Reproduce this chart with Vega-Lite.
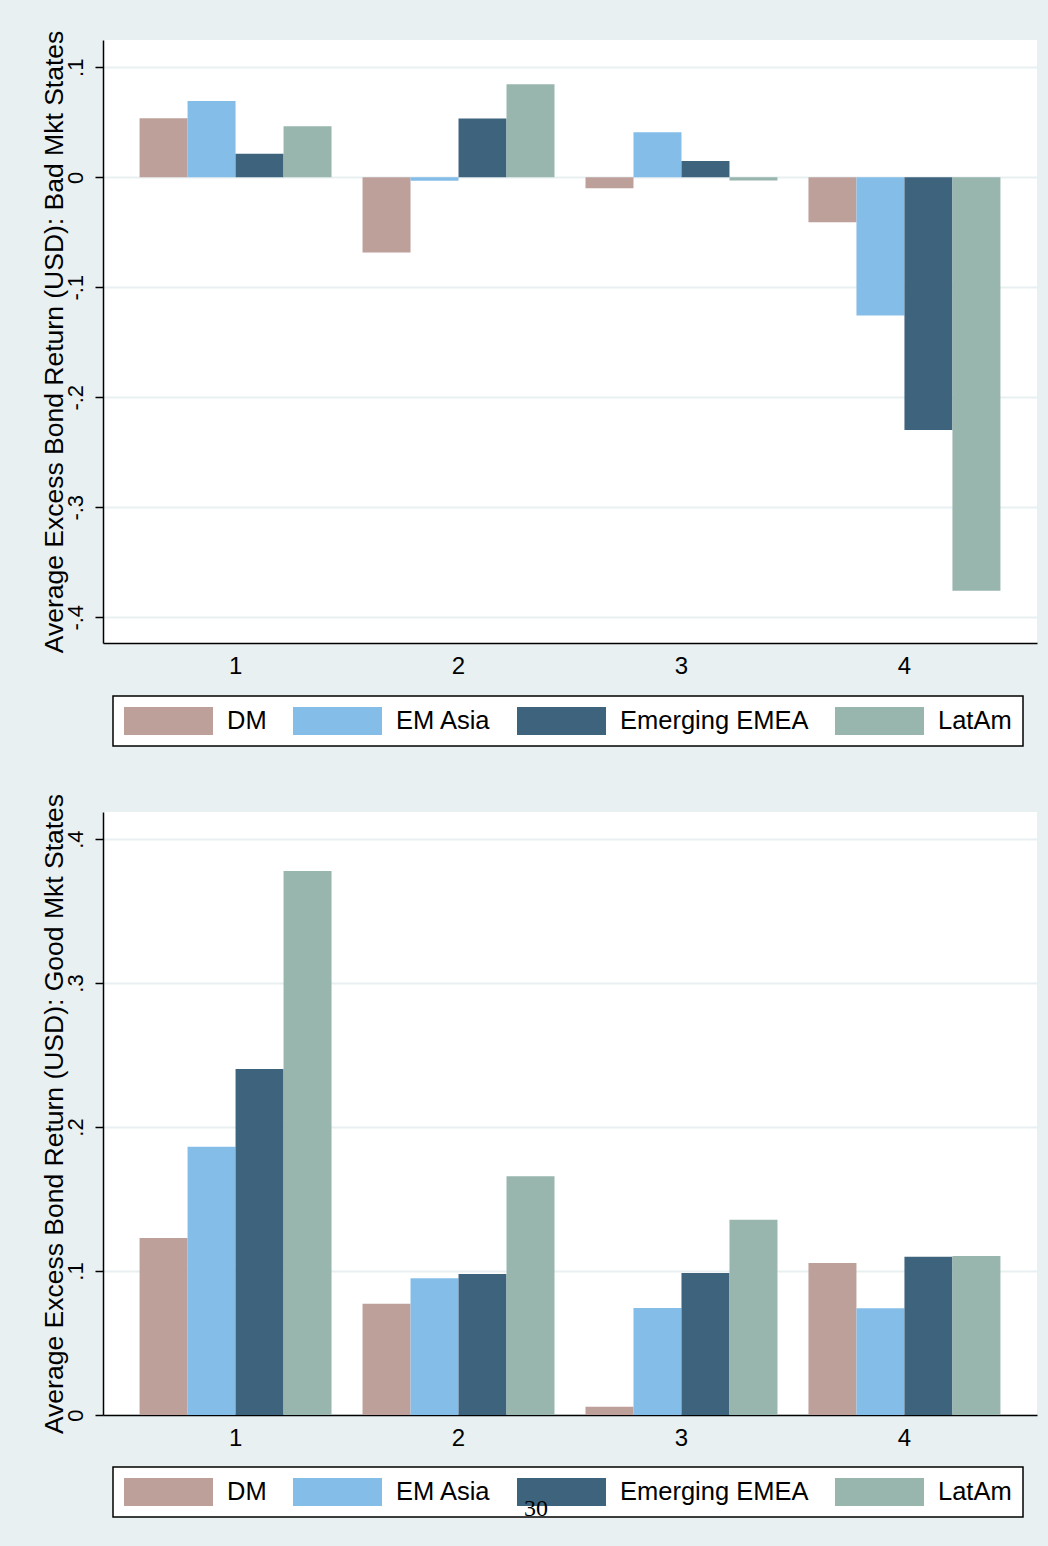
{
  "$schema": "https://vega.github.io/schema/vega-lite/v6.json",
  "background": "#e8f0f2",
  "padding": {"left": 41, "top": 30, "right": 11, "bottom": 29},
  "config": {
    "view": {"fill": "white", "stroke": null},
    "font": "Liberation Sans",
    "axis": {"labelColor": "black", "titleColor": "black", "domainColor": "black", "domainWidth": 1.5, "tickColor": "black", "tickWidth": 1.5, "titleFontWeight": "normal"},
    "legend": {"labelColor": "black"}
  },
  "title": {"text": "30", "orient": "bottom", "anchor": "middle", "font": "Liberation Serif", "fontSize": 24, "fontWeight": "normal", "color": "black", "offset": -21, "dx": -3},
  "data": {"values": [
    {"state": "Bad", "grp": "1", "region": "DM", "value": 0.0536},
    {"state": "Bad", "grp": "1", "region": "EM Asia", "value": 0.0694},
    {"state": "Bad", "grp": "1", "region": "Emerging EMEA", "value": 0.0215},
    {"state": "Bad", "grp": "1", "region": "LatAm", "value": 0.0464},
    {"state": "Bad", "grp": "2", "region": "DM", "value": -0.0685},
    {"state": "Bad", "grp": "2", "region": "EM Asia", "value": -0.0031},
    {"state": "Bad", "grp": "2", "region": "Emerging EMEA", "value": 0.0535},
    {"state": "Bad", "grp": "2", "region": "LatAm", "value": 0.0845},
    {"state": "Bad", "grp": "3", "region": "DM", "value": -0.010},
    {"state": "Bad", "grp": "3", "region": "EM Asia", "value": 0.041},
    {"state": "Bad", "grp": "3", "region": "Emerging EMEA", "value": 0.0148},
    {"state": "Bad", "grp": "3", "region": "LatAm", "value": -0.003},
    {"state": "Bad", "grp": "4", "region": "DM", "value": -0.041},
    {"state": "Bad", "grp": "4", "region": "EM Asia", "value": -0.1257},
    {"state": "Bad", "grp": "4", "region": "Emerging EMEA", "value": -0.2297},
    {"state": "Bad", "grp": "4", "region": "LatAm", "value": -0.376},
    {"state": "Good", "grp": "1", "region": "DM", "value": 0.1229},
    {"state": "Good", "grp": "1", "region": "EM Asia", "value": 0.1863},
    {"state": "Good", "grp": "1", "region": "Emerging EMEA", "value": 0.2403},
    {"state": "Good", "grp": "1", "region": "LatAm", "value": 0.3778},
    {"state": "Good", "grp": "2", "region": "DM", "value": 0.0773},
    {"state": "Good", "grp": "2", "region": "EM Asia", "value": 0.0949},
    {"state": "Good", "grp": "2", "region": "Emerging EMEA", "value": 0.0979},
    {"state": "Good", "grp": "2", "region": "LatAm", "value": 0.1658},
    {"state": "Good", "grp": "3", "region": "DM", "value": 0.0058},
    {"state": "Good", "grp": "3", "region": "EM Asia", "value": 0.0743},
    {"state": "Good", "grp": "3", "region": "Emerging EMEA", "value": 0.0986},
    {"state": "Good", "grp": "3", "region": "LatAm", "value": 0.1356},
    {"state": "Good", "grp": "4", "region": "DM", "value": 0.1056},
    {"state": "Good", "grp": "4", "region": "EM Asia", "value": 0.0741},
    {"state": "Good", "grp": "4", "region": "Emerging EMEA", "value": 0.1099},
    {"state": "Good", "grp": "4", "region": "LatAm", "value": 0.1104}
  ]},
  "spacing": 46,
  "resolve": {"scale": {"y": "independent", "x": "independent", "color": "independent"}, "legend": {"color": "independent"}, "axis": {"y": "independent"}},
  "vconcat": [
    {
      "width": 934,
      "height": 603,
      "transform": [{"filter": "datum.state == 'Bad'"}],
      "mark": {"type": "bar"},
      "encoding": {
        "x": {"field": "grp", "type": "ordinal", "scale": {"paddingInner": 0.139, "paddingOuter": 0.164},
          "axis": {"title": null, "labelAngle": 0, "ticks": false, "labelPadding": 11, "labelFontSize": 24, "labelBaseline": "top"}},
        "xOffset": {"field": "region", "type": "nominal", "sort": ["DM", "EM Asia", "Emerging EMEA", "LatAm"], "scale": {"paddingInner": 0, "paddingOuter": 0}},
        "y": {"field": "value", "type": "quantitative", "stack": null,
          "scale": {"domain": [-0.4234, 0.1248], "nice": false, "zero": false},
          "axis": {"title": "Average Excess Bond Return (USD): Bad Mkt States", "values": [-0.4, -0.3, -0.2, -0.1, 0, 0.1],
            "labelExpr": "datum.value == 0 ? '0' : (datum.value < 0 ? '-' : '') + replace(format(abs(datum.value), '.1f'), '0.', '.')",
            "labelAngle": -90, "labelAlign": "center", "labelBaseline": "alphabetic", "labelFontSize": 22, "labelPadding": 13, "tickSize": 8,
            "grid": true, "gridColor": "#e8f0f2", "gridWidth": 2,
            "titleFontSize": 26.5, "titleAngle": -90, "titleX": -41, "titleY": 301.5, "titleBaseline": "alphabetic", "titleAlign": "center"}},
        "y2": {"datum": 0},
        "color": {"field": "region", "type": "nominal",
          "scale": {"domain": ["DM", "EM Asia", "Emerging EMEA", "LatAm"], "range": ["#bea09a", "#84bee8", "#3e637d", "#98b6ae"]},
          "legend": {"orient": "none", "legendX": 10, "legendY": 656, "direction": "horizontal", "columns": 4, "title": null,
            "symbolType": "M-3.179,-1L3.179,-1L3.179,1L-3.179,1Z", "symbolSize": 784, "symbolStrokeWidth": 0, "symbolOpacity": 1, "symbolOffset": 30.5,
            "labelFontSize": 25.5, "labelOffset": 44.5, "labelLimit": 400, "columnPadding": 25, "padding": 11,
            "fillColor": "white", "strokeColor": "black",
            "encode": {"legend": {"update": {"strokeWidth": {"value": 1.5}}}}}}
      }
    },
    {
      "width": 934,
      "height": 603,
      "transform": [{"filter": "datum.state == 'Good'"}],
      "mark": {"type": "bar"},
      "encoding": {
        "x": {"field": "grp", "type": "ordinal", "scale": {"paddingInner": 0.139, "paddingOuter": 0.164},
          "axis": {"title": null, "labelAngle": 0, "ticks": false, "labelPadding": 11, "labelFontSize": 24, "labelBaseline": "top"}},
        "xOffset": {"field": "region", "type": "nominal", "sort": ["DM", "EM Asia", "Emerging EMEA", "LatAm"], "scale": {"paddingInner": 0, "paddingOuter": 0}},
        "y": {"field": "value", "type": "quantitative", "stack": null,
          "scale": {"domain": [0, 0.4188], "nice": false, "zero": false},
          "axis": {"title": "Average Excess Bond Return (USD): Good Mkt States", "values": [0, 0.1, 0.2, 0.3, 0.4],
            "labelExpr": "datum.value == 0 ? '0' : (datum.value < 0 ? '-' : '') + replace(format(abs(datum.value), '.1f'), '0.', '.')",
            "labelAngle": -90, "labelAlign": "center", "labelBaseline": "alphabetic", "labelFontSize": 22, "labelPadding": 13, "tickSize": 8,
            "grid": true, "gridColor": "#e8f0f2", "gridWidth": 2,
            "titleFontSize": 26.5, "titleAngle": -90, "titleX": -41, "titleY": 301.5, "titleBaseline": "alphabetic", "titleAlign": "center"}},
        "y2": {"datum": 0},
        "color": {"field": "region", "type": "nominal",
          "scale": {"domain": ["DM", "EM Asia", "Emerging EMEA", "LatAm"], "range": ["#bea09a", "#84bee8", "#3e637d", "#98b6ae"]},
          "legend": {"orient": "none", "legendX": 10, "legendY": 655, "direction": "horizontal", "columns": 4, "title": null,
            "symbolType": "M-3.179,-1L3.179,-1L3.179,1L-3.179,1Z", "symbolSize": 784, "symbolStrokeWidth": 0, "symbolOpacity": 1, "symbolOffset": 30.5,
            "labelFontSize": 25.5, "labelOffset": 44.5, "labelLimit": 400, "columnPadding": 25, "padding": 11,
            "fillColor": "white", "strokeColor": "black",
            "encode": {"legend": {"update": {"strokeWidth": {"value": 1.5}}}}}}
      }
    }
  ]
}
